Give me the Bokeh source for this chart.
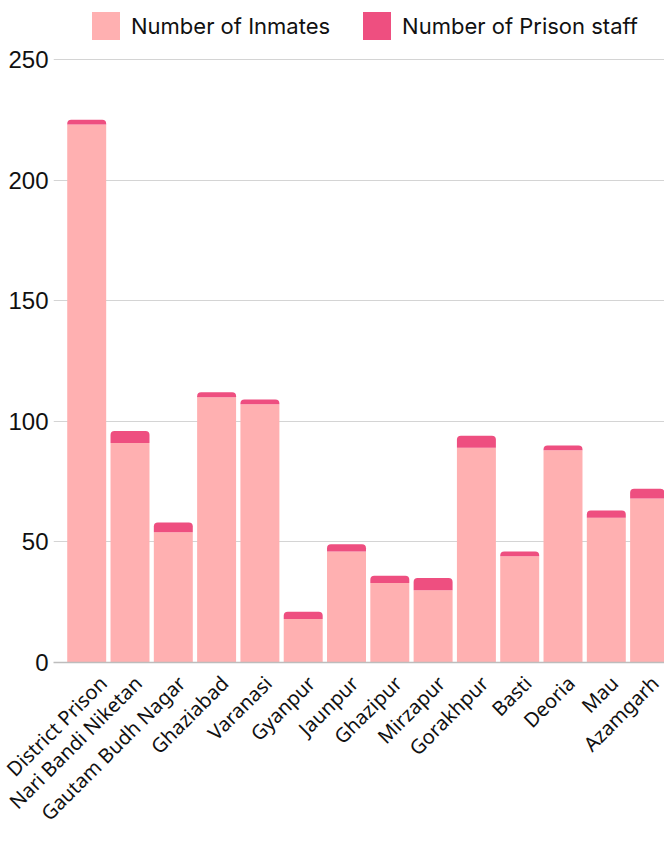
import math
from bokeh.plotting import figure
from bokeh.models import (ColumnDataSource, Range1d, FixedTicker, Legend, LegendItem)
from bokeh.embed import file_html
from bokeh.resources import INLINE

prisons = ["District Prison", "Nari Bandi Niketan", "Gautam Budh Nagar", "Ghaziabad",
           "Varanasi", "Gyanpur", "Jaunpur", "Ghazipur", "Mirzapur", "Gorakhpur",
           "Basti", "Deoria", "Mau", "Azamgarh"]
inmates = [223, 91, 54, 110, 107, 18, 46, 33, 30, 89, 44, 88, 60, 68]
staff = [2, 5, 4, 2, 2, 3, 3, 3, 5, 5, 2, 2, 3, 4]
y_ticks = [0, 50, 100, 150, 200, 250]

INMATE_COLOR = "#FFB0B1"
STAFF_COLOR = "#EE4F80"

xs = list(range(len(prisons)))
total = [a + b for a, b in zip(inmates, staff)]
src = ColumnDataSource(dict(x=xs, inmates=inmates, total=total))

p = figure(frame_width=611, frame_height=654,
           x_range=Range1d(-0.767, 13.344), y_range=Range1d(0, 271.1),
           output_backend="svg", toolbar_location=None,
           min_border_left=53, min_border_right=0, min_border_top=8,
           min_border_bottom=184)
p.background_fill_color = "white"
p.border_fill_color = "white"
p.outline_line_color = None

r1 = p.vbar(x="x", top="inmates", bottom=0, width=0.9, source=src,
            fill_color=INMATE_COLOR, line_color=None)
r2 = p.vbar(x="x", top="total", bottom="inmates", width=0.9, source=src,
            fill_color=STAFF_COLOR, line_color=None, border_radius=(4, 4, 0, 0))

# y axis
p.yaxis.ticker = FixedTicker(ticks=y_ticks)
p.yaxis.axis_line_color = None
p.yaxis.major_tick_line_color = None
p.yaxis.minor_tick_line_color = None
p.yaxis.major_tick_out = 0
p.yaxis.major_tick_in = 0
p.yaxis.major_label_standoff = 5
p.yaxis.major_label_text_font = "Liberation Sans"
p.yaxis.major_label_text_font_size = "24px"
p.yaxis.major_label_text_color = "#111111"

p.ygrid.ticker = FixedTicker(ticks=y_ticks)
p.ygrid.grid_line_color = "#d4d4d4"
p.ygrid.grid_line_width = 1
p.xgrid.grid_line_color = None

# x axis (labels anchored slightly right of each bar centre)
label_ticks = [i + 0.1875 for i in xs]
p.xaxis.ticker = FixedTicker(ticks=label_ticks)
p.xaxis.major_label_overrides = {t: n for t, n in zip(label_ticks, prisons)}
p.xaxis.major_label_orientation = math.pi / 4
p.xaxis.axis_line_color = "#bdbdbd"
p.xaxis.axis_line_width = 1.5
p.xaxis.major_tick_line_color = None
p.xaxis.minor_tick_line_color = None
p.xaxis.major_tick_out = 0
p.xaxis.major_tick_in = 0
p.xaxis.major_label_standoff = 17
p.xaxis.major_label_text_font = "Noto Sans"
p.xaxis.major_label_text_font_size = "20px"
p.xaxis.major_label_text_color = "#111111"

legend = Legend(items=[LegendItem(label="Number of Inmates", renderers=[r1]),
                       LegendItem(label="Number of Prison staff", renderers=[r2])],
                orientation="horizontal", location=(35, 619),
                glyph_width=35, glyph_height=35, label_text_font="Inter",
                label_text_font_size="22px", label_text_color="#111111",
                spacing=29, padding=0, margin=0, label_standoff=8,
                background_fill_alpha=0, border_line_alpha=0)
p.add_layout(legend, "center")

open("out.html", "w").write(file_html(p, INLINE))
